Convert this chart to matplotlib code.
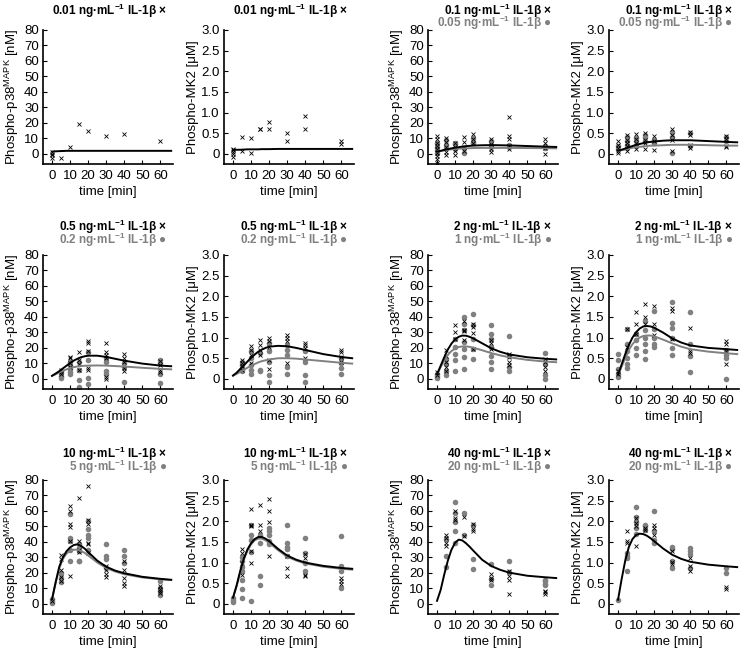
import numpy as np
import matplotlib.pyplot as plt

plt.rcParams['font.family'] = ['Liberation Sans', 'DejaVu Sans']
plt.rcParams['mathtext.fontset'] = 'custom'
plt.rcParams['mathtext.rm'] = 'Liberation Sans'
plt.rcParams['mathtext.bf'] = 'Liberation Sans:bold'

# ---- sampling times [min] ----
times = [0, 5, 10, 15, 20, 30, 40, 60]
curve_t = [0, 2, 4, 6, 8, 10, 12, 14, 16, 18, 20, 25, 30, 35, 40, 50, 60, 66]

# ---- measured points, one list per sampling time ----
p38_001_x = [[1, 0, -1, -2.4], [-2.4], [4.3], [19], [15], [11.6], [13], [8.2]]
mk2_001_x = [[0.13, 0.09, 0.05, 0.0, -0.07], [0.41, 0.06], [0.39, 0.02], [0.61, 0.6],
             [0.78, 0.61], [0.5, 0.3], [0.92, 0.61], [0.3, 0.25]]

p38_01_x = [[11.6, 9.5, 7.3, 5.2, 3, 0.9, -1.3, -3.4, -5.6], [10, 8, 4.7, 1.5, -0.9],
            [7.3, 4.7, 2, -0.6], [10.8, 8, 4.7, 2.2], [12.9, 9.5, 7.3],
            [9.5, 6.5, 3.2, 1.5], [23.6, 11.6, 9.5, 5.2, 3.2], [9.5, 7.3, 3.7, 0]]
p38_005_o = [[7, 4.7, 2.6, 0.9], [9, 5.8, 3.7], [7.3, 6.5, 3.2], [3.7, 0.4],
             [10.5, 8, 6.9], [8.4, 5.8, 4.7], [5.6, 4.7], [5.2, 3.7]]
mk2_01_x = [[0.3, 0.22, 0.14, 0.08, 0.02], [0.46, 0.34, 0.26, 0.18, 0.08],
            [0.49, 0.36, 0.26, 0.11], [0.5, 0.34, 0.26, 0.11], [0.44, 0.3, 0.1],
            [0.6, 0.46, 0.34, 0.06], [0.52, 0.46, 0.22, 0.14], [0.44, 0.36, 0.19, 0.16]]
mk2_005_o = [[0.18, 0.11], [0.42, 0.3, 0.22, 0.14], [0.38, 0.3, 0.18], [0.46, 0.41, 0.3],
             [0.34, 0.26], [0.54, 0.42, 0.03], [0.5, 0.18], [0.41, 0.3]]

p38_05_x = [[], [5.8, 4.3, 3], [14.4, 13.3, 10, 8], [17.6, 12.3, 9.5, 5.8],
            [24.5, 23, 18, 7.3, 5.8], [23, 17.6, 15.5, 13.8, 1.5, -0.2],
            [15.9, 13.3, 11.2, 7.3, 5.2], [11.6, 9, 5.8, 4.7]]
p38_02_o = [[], [5.2, 3.7, 2.2, 0.9], [11.2, 9, 6.5, 4.7, 3], [11.2, 5.8, -0.6, -5],
            [17.6, 12.3, 0.4, -3.2], [13.3, 11.2, 5.2, 3], [10, 8, -1.7], [12.3, 10, 3, -2.4]]
mk2_05_x = [[], [0.46, 0.38, 0.3, 0.22], [0.79, 0.71, 0.59, 0.38], [0.93, 0.83, 0.71, 0.59],
            [1.0, 0.91, 0.76, 0.46, 0.24], [1.06, 1.0, 0.91, 0.38], [0.87, 0.83, 0.75, 0.5],
            [0.71, 0.65, 0.54, 0.42]]
mk2_02_o = [[], [0.42, 0.34, 0.26, 0.18], [0.67, 0.5, 0.34, 0.22, 0.11], [0.63, 0.22, 0.18],
            [0.87, 0.67, 0.42, 0.1, -0.07], [0.83, 0.69, 0.59, 0.28, 0.11],
            [0.67, 0.42, 0.1, -0.07], [0.5, 0.38, 0.26, 0.11]]

p38_2_x = [[4.3, 2.6], [18.4, 15.1, 10.8, 7.6, 5.4], [35, 30.3, 25.5], [37.2, 31.4, 30.7, 24.9],
           [35.7, 33.5, 29.8, 19.5], [24.9, 23.4, 19.5], [16.2, 14, 10.8, 9.1], [13, 10.8, 7.6, 5.4]]
p38_1_o = [[3.2, 1.7, 0.4], [13, 9.7, 5.4, 2.6], [25.5, 20.5, 16.2, 11.9, 5.4],
           [40, 35.7, 31.4, 23.8, 19.5, 14.1, 6.5], [42, 34.6, 25.9, 19.5, 13],
           [35, 29.2, 25.5, 20.5, 15.1, 10.8, 6.1], [27.5, 15.1, 7.6, 5.4], [16.9, 9.7, 2.6, 0]]
mk2_2_x = [[0.19, 0.11], [1.2, 0.77], [1.62, 1.32, 1.08], [1.82, 1.5, 1.32], [1.77, 1.34, 1.06],
           [1.71, 1.65, 0.96], [1.24, 0.67, 0.63], [0.92, 0.84, 0.67, 0.35]]
mk2_1_o = [[0.6, 0.45, 0.25, 0.12, 0.05], [1.22, 0.84, 0.67, 0.51, 0.35, 0.27],
           [1.09, 0.93, 0.75, 0.59], [1.39, 1.18, 1.0, 0.84, 0.67, 0.47],
           [1.65, 1.2, 1.0, 0.84, 0.77], [1.87, 1.36, 1.24, 1.0, 0.75, 0.59],
           [1.61, 0.84, 0.55, 0.17], [0.71, 0.59, 0.51, 0.0]]

p38_10_x = [[2.2], [31.9, 29.3, 22.2, 17.2, 14.7], [63.1, 59.9, 51.7, 49.6, 40.5, 17.9],
            [68.5, 40.9, 35.1, 33.6], [76.1, 54.5, 51.3, 39.4, 38.4, 33],
            [24.4, 22.2, 19, 17.2], [27.6, 22.2, 16.8, 13.6, 11.4], [11.4, 9.7, 8.2, 7.1]]
p38_5_o = [[3.2, 1.7, 0.6], [20, 16.8, 14], [58.2, 42.7, 40.9, 35.1, 28],
           [38.4, 36.2, 34.1, 28, 27.6], [53.4, 48.1, 44.8, 42.7, 35.1],
           [38.4, 30.8, 28.7, 23.3], [35.1, 30.8, 26.5], [14.7, 10.3, 8.6, 6]]
mk2_10_x = [[], [1.32, 1.24, 0.99, 0.71], [2.29, 1.92, 1.88, 1.28, 0.99], [2.39, 1.92, 1.76],
            [2.55, 2.25, 1.99, 1.16], [1.16, 0.87, 0.67], [1.2, 1.1, 0.7, 0.67], [0.63, 0.55, 0.49]]
mk2_5_o = [[0.15, 0.1, 0.05], [1.13, 1.03, 0.89, 0.79, 0.59, 0.36, 0.15],
           [1.92, 1.68, 1.54, 1.26, 0.06], [1.68, 1.48, 0.67, 0.45], [1.84, 1.76, 1.68, 1.52, 1.44],
           [1.92, 1.48, 1.37, 1.32, 1.16], [1.6, 1.24, 0.99, 0.79], [1.64, 0.91, 0.79, 0.39]]

p38_40_x = [[], [44.8, 42.7, 39.4, 37.3], [60.3, 55.6, 53.9], [56, 43.8], [51.3, 48.1, 47],
            [19.4, 16.8, 15.7], [21.1, 17.9, 15.7, 6.7], [8.6, 7.5, 6.5]]
p38_20_o = [[], [41.6, 30.8, 23.7], [65.5, 59, 52.8, 47, 39.4], [59, 44.2], [50.9, 29.1, 22.8],
            [25.9, 16.4, 11.9], [28, 20.7], [15.7, 14.7, 12.9, 12.1]]
mk2_40_x = [[], [1.76, 1.52, 1.48], [2.07, 1.96, 1.88, 1.41], [1.84, 1.8], [1.92, 1.84, 1.68],
            [1.28, 1.02, 0.97], [1.12, 0.91, 0.79], [0.4, 0.37]]
mk2_20_o = [[0.1], [1.24, 1.16, 1.1, 0.79], [2.34, 2.1, 1.99, 1.84, 1.7], [1.92, 1.88, 1.8],
            [2.26, 1.76, 1.54, 1.48], [1.37, 1.32, 1.03, 0.87], [1.36, 1.28, 1.2, 0.87], [0.87, 0.75]]

# ---- model curves, read at curve_t ----
c_p38_001 = [1.5, 1.7, 1.8, 1.9, 2, 2, 2, 2, 2, 2, 2, 2, 2, 2, 2, 2, 2, 2]
c_mk2_001 = [0.1, 0.1, 0.1, 0.105, 0.11, 0.11, 0.11, 0.11, 0.115, 0.115, 0.115, 0.12, 0.12,
             0.12, 0.12, 0.12, 0.12, 0.12]
c_p38_01 = [1.5, 2, 2.6, 3.1, 3.6, 4.0, 4.4, 4.7, 5.0, 5.2, 5.4, 5.6, 5.7, 5.6, 5.5, 5.1, 4.7, 4.5]
c_p38_005 = [1.5, 1.9, 2.3, 2.7, 3.0, 3.2, 3.4, 3.5, 3.6, 3.7, 3.8, 3.9, 3.9, 3.9, 3.9, 3.8, 3.7, 3.6]
c_mk2_01 = [0.08, 0.1, 0.13, 0.16, 0.19, 0.22, 0.24, 0.26, 0.28, 0.29, 0.30, 0.32, 0.33, 0.33,
            0.33, 0.31, 0.29, 0.28]
c_mk2_005 = [0.08, 0.09, 0.11, 0.13, 0.15, 0.16, 0.17, 0.18, 0.19, 0.2, 0.2, 0.21, 0.22, 0.22,
             0.22, 0.21, 0.2, 0.2]
c_p38_05 = [2, 3.5, 5, 6.8, 8.5, 10.3, 11.8, 13, 14, 14.6, 15, 15, 14.2, 13, 11.8, 9.9, 8.6, 8.2]
c_p38_02 = [2, 3, 4.2, 5.2, 6.2, 7, 7.6, 8.0, 8.3, 8.5, 8.6, 8.7, 8.6, 8.3, 8.0, 7.2, 6.5, 6.2]
c_mk2_05 = [0.08, 0.15, 0.24, 0.33, 0.42, 0.51, 0.59, 0.66, 0.71, 0.75, 0.78, 0.8, 0.79, 0.75,
            0.7, 0.6, 0.53, 0.5]
c_mk2_02 = [0.08, 0.12, 0.17, 0.22, 0.27, 0.32, 0.36, 0.4, 0.43, 0.45, 0.47, 0.5, 0.5, 0.49,
            0.47, 0.43, 0.39, 0.37]
c_p38_2 = [3, 8.5, 14, 19, 22.8, 25.5, 27.2, 28, 27.9, 27.2, 26.2, 23, 19.8, 17.5, 15.8, 14, 13, 12.6]
c_p38_1 = [3, 7.5, 12, 15.5, 18, 19.6, 20.6, 21, 21, 20.7, 20.2, 18.5, 16.7, 15.2, 14, 12.3, 11.2, 10.8]
c_mk2_2 = [0.1, 0.35, 0.6, 0.82, 1.0, 1.13, 1.22, 1.27, 1.28, 1.27, 1.24, 1.12, 0.98, 0.88, 0.81,
           0.75, 0.72, 0.70]
c_mk2_1 = [0.1, 0.3, 0.5, 0.7, 0.84, 0.94, 1.0, 1.04, 1.05, 1.05, 1.03, 0.95, 0.86, 0.78, 0.72,
           0.66, 0.62, 0.6]
c_p38_10 = [3, 14, 24, 30, 34, 36.5, 38, 38.5, 37.5, 35.8, 33.5, 28, 24, 21.5, 19.8, 17.5, 16.2, 15.6]
c_p38_5 = [3, 13.5, 23, 29, 32.5, 34.3, 35, 35, 34.2, 33, 31.3, 26.8, 23.2, 20.9, 19.2, 17.1, 15.9, 15.4]
c_mk2_10 = [0.15, 0.45, 0.8, 1.1, 1.32, 1.47, 1.57, 1.62, 1.62, 1.58, 1.52, 1.33, 1.17, 1.07, 1.0,
            0.92, 0.87, 0.85]
c_mk2_5 = [0.15, 0.43, 0.77, 1.07, 1.29, 1.44, 1.54, 1.58, 1.58, 1.54, 1.48, 1.3, 1.14, 1.05,
           0.98, 0.9, 0.85, 0.83]
c_p38_40 = [2, 9, 19, 28, 35, 39.5, 41.5, 41, 39.2, 37, 34.5, 28.5, 24.5, 22, 20.2, 18.2, 17.2, 16.7]
c_mk2_40 = [0.1, 0.6, 1.05, 1.38, 1.57, 1.67, 1.7, 1.69, 1.65, 1.59, 1.52, 1.34, 1.19, 1.09, 1.02,
            0.95, 0.91, 0.89]

# ---- labels ----
p38_label = r'Phospho-p38$^{\mathrm{MAPK}}$ [nM]'
mk2_label = 'Phospho-MK2 [\u03bcM]'
p38_ticks = [0, 10, 20, 30, 40, 50, 60, 70, 80]
mk2_ticks = [0, 0.5, 1.0, 1.5, 2.0, 2.5, 3.0]
mk2_ticklabels = ['0', '0.5', '1.0', '1.5', '2.0', '2.5', '3.0']


def dose(d):
    return d + r' ng·mL$^{\mathbf{-1}}$ IL-1β'


# (row, col, readout, dose black, dose grey, black x, grey dots, black curve, grey curve)
panels = [
    (0, 0, 'p38', '0.01', None, p38_001_x, None, c_p38_001, None),
    (0, 1, 'mk2', '0.01', None, mk2_001_x, None, c_mk2_001, None),
    (0, 2, 'p38', '0.1', '0.05', p38_01_x, p38_005_o, c_p38_01, c_p38_005),
    (0, 3, 'mk2', '0.1', '0.05', mk2_01_x, mk2_005_o, c_mk2_01, c_mk2_005),
    (1, 0, 'p38', '0.5', '0.2', p38_05_x, p38_02_o, c_p38_05, c_p38_02),
    (1, 1, 'mk2', '0.5', '0.2', mk2_05_x, mk2_02_o, c_mk2_05, c_mk2_02),
    (1, 2, 'p38', '2', '1', p38_2_x, p38_1_o, c_p38_2, c_p38_1),
    (1, 3, 'mk2', '2', '1', mk2_2_x, mk2_1_o, c_mk2_2, c_mk2_1),
    (2, 0, 'p38', '10', '5', p38_10_x, p38_5_o, c_p38_10, c_p38_5),
    (2, 1, 'mk2', '10', '5', mk2_10_x, mk2_5_o, c_mk2_10, c_mk2_5),
    (2, 2, 'p38', '40', '20', p38_40_x, p38_20_o, c_p38_40, None),
    (2, 3, 'mk2', '40', '20', mk2_40_x, mk2_20_o, c_mk2_40, None),
]

grey = '#808080'
W, H = 745, 653
col_left = [43, 224, 428, 609]
row_top = [30, 255, 480]
title_base = [(15, 27), (231, 244), (458, 471)]
ax_w, ax_h = 130, 134
fs = 9.5

fig = plt.figure(figsize=(W / 100, H / 100), dpi=100)


def flatten(groups):
    tt, vv = [], []
    for t, vals in zip(times, groups):
        tt += [t] * len(vals)
        vv += vals
    return tt, vv


for row, col, kind, d_hi, d_lo, xs, dots, cur_hi, cur_lo in panels:
    left, top = col_left[col], row_top[row]
    ax = fig.add_axes([left / W, 1 - (top + ax_h) / H, ax_w / W, ax_h / H])

    if dots is not None:
        t, v = flatten(dots)
        ax.plot(t, v, 'o', color=grey, ms=4, mec='none', zorder=2)
    t, v = flatten(xs)
    ax.plot(t, v, 'x', color='black', ms=3.3, mew=0.6, zorder=3)
    if cur_lo is not None:
        ax.plot(curve_t, cur_lo, color=grey, lw=1.4, zorder=4)
    ax.plot(curve_t, cur_hi, color='black', lw=1.4, zorder=5)

    ax.set_xlim(-5, 67)
    ax.set_xticks([0, 10, 20, 30, 40, 50, 60])
    if kind == 'p38':
        ax.set_ylim(-6.5, 80)
        ax.set_yticks(p38_ticks)
        ax.set_ylabel(p38_label, fontsize=fs, labelpad=2)
    else:
        ax.set_ylim(-0.245, 3.0)
        ax.set_yticks(mk2_ticks)
        ax.set_yticklabels(mk2_ticklabels)
        ax.set_ylabel(mk2_label, fontsize=fs, labelpad=2)
    ax.set_xlabel('time [min]', fontsize=fs, labelpad=3)

    for s in ['top', 'right']:
        ax.spines[s].set_visible(False)
    for s in ['left', 'bottom']:
        ax.spines[s].set_linewidth(1.2)
    ax.tick_params(direction='in', length=3, width=0.8, labelsize=fs)
    ax.tick_params(axis='x', pad=4)
    ax.tick_params(axis='y', pad=3)

    # two-line dose titles, right aligned over the axes
    xr = (left + ax_w - 6) / W
    y1, y2 = title_base[row]
    fig.text(xr, 1 - y1 / H, dose(d_hi) + ' \u00d7', ha='right', va='baseline',
             fontsize=8.5, fontweight='bold', color='black')
    if d_lo is not None:
        fig.text(xr, 1 - y2 / H, dose(d_lo) + ' \u25cf', ha='right', va='baseline',
                 fontsize=8.5, fontweight='bold', color=grey)

fig.savefig('out.png', dpi=100)
